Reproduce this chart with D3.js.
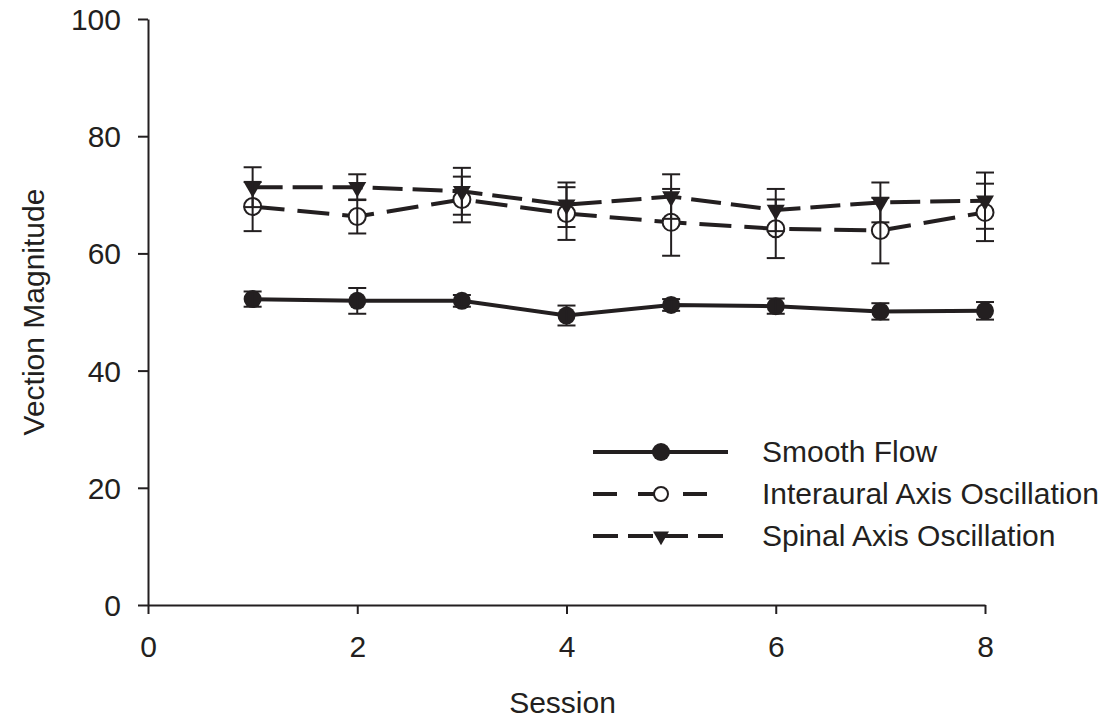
<!DOCTYPE html>
<html>
<head>
<meta charset="utf-8">
<script src="https://cdn.jsdelivr.net/npm/d3@7"></script>
<style>
  body { margin: 0; background: #fff; }
  text { font-family: "Liberation Sans", Arial, sans-serif; fill: #231f20; }
</style>
</head>
<body>
<div class="chart"></div>
<script>
// data
const sessions = [1, 2, 3, 4, 5, 6, 7, 8];
const smoothFlow = [52.2, 51.9, 51.9, 49.4, 51.2, 51.0, 50.1, 50.2];
const smoothFlowErr = [1.3, 2.2, 1.0, 1.7, 1.0, 1.3, 1.4, 1.5];
const interaural = [68.0, 66.3, 69.2, 66.8, 65.3, 64.2, 63.9, 67.0];
const interauralErr = [4.2, 2.9, 3.9, 4.5, 5.7, 5.0, 5.6, 4.9];
const spinal = [71.3, 71.3, 70.6, 68.3, 69.7, 67.4, 68.7, 69.0];
const spinalErr = [3.4, 2.2, 4.0, 3.8, 3.8, 3.6, 3.4, 4.8];
const xTicks = [0, 2, 4, 6, 8];
const yTicks = [0, 20, 40, 60, 80, 100];
const seriesNames = ["Smooth Flow", "Interaural Axis Oscillation", "Spinal Axis Oscillation"];

const ink = "#231f20";
const fontSize = 30;
const margin = ({top: 19, right: 124, bottom: 118, left: 148});
const width = 1109 - margin.left - margin.right,
      height = 723 - margin.top - margin.bottom;

const svg = d3.select(".chart")
              .append("svg")
              .attr("width", 1109)
              .attr("height", 723)
              .append("g")
              .attr("transform", "translate(" + margin.left + "," + margin.top + ")");

const xScale = d3.scaleLinear().domain([0, 8]).range([0, width]);
const yScale = d3.scaleLinear().domain([0, 100]).range([height, 0]);

// axes
const xAxis = d3.axisBottom(xScale).tickValues(xTicks).tickSize(9).tickSizeOuter(0).tickPadding(22);
const yAxis = d3.axisLeft(yScale).tickValues(yTicks).tickSize(10).tickSizeOuter(0).tickPadding(17);

const drawX = svg.append("g").attr("class", "axis x-axis")
                 .attr("transform", `translate(0, ${height})`).call(xAxis);
const drawY = svg.append("g").attr("class", "axis y-axis").call(yAxis);
svg.selectAll(".axis path, .axis line").attr("stroke", ink).attr("stroke-width", 2);
svg.selectAll(".axis text").attr("font-size", fontSize).style("fill", ink)
   .attr("font-family", "'Liberation Sans', Arial, sans-serif");
drawX.selectAll("text").attr("dy", "0.71em");
drawY.selectAll("text").attr("dy", "0.35em");

svg.append("text")
   .attr("x", xScale(4) - 4)
   .attr("y", height + 108)
   .attr("text-anchor", "middle")
   .attr("font-size", fontSize)
   .text("Session");

svg.append("text")
   .attr("transform", `translate(${44 - margin.left}, ${yScale(50)}) rotate(-90)`)
   .attr("text-anchor", "middle")
   .attr("font-size", fontSize)
   .text("Vection Magnitude");

// series definitions
const series = [
  {name: seriesNames[0], values: smoothFlow, err: smoothFlowErr, dash: null, legendDash: null, marker: "filled"},
  {name: seriesNames[1], values: interaural, err: interauralErr, dash: "32,13", legendDash: "24,21", marker: "open"},
  {name: seriesNames[2], values: spinal, err: spinalErr, dash: "30,10", legendDash: "25,10", marker: "triangle"}
];

const line = d3.line()
               .x(d => xScale(d.x))
               .y(d => yScale(d.y));

const triangle = d3.symbol().type(d3.symbolTriangle).size(140);

function drawMarker(g, kind) {
  if (kind === "filled") {
    g.append("circle").attr("r", 9).attr("fill", ink);
  } else if (kind === "open") {
    g.append("circle").attr("r", 8.5).attr("fill", "#fff").attr("stroke", ink).attr("stroke-width", 2);
  } else {
    g.append("path").attr("d", triangle()).attr("transform", "rotate(180)").attr("fill", ink);
  }
}

series.forEach(s => {
  const pts = sessions.map((x, i) => ({x: x, y: s.values[i], e: s.err[i]}));
  s.pts = pts;
  svg.append("path")
     .datum(pts)
     .attr("d", line)
     .attr("fill", "none")
     .attr("stroke", ink)
     .attr("stroke-width", 4)
     .attr("stroke-dasharray", s.dash);
});

series.forEach(s => {
  s.pts.forEach(p => {
    const g = svg.append("g").attr("transform", `translate(${xScale(p.x)},${yScale(p.y)})`);
    drawMarker(g, s.marker);
  });
});

// error bars on top
series.forEach(s => {
  const eg = svg.append("g").attr("stroke", ink).attr("stroke-width", 2);
  s.pts.forEach(p => {
    const cx = xScale(p.x), top = yScale(p.y + p.e), bot = yScale(p.y - p.e);
    eg.append("line").attr("x1", cx).attr("x2", cx).attr("y1", top).attr("y2", bot);
    eg.append("line").attr("x1", cx - 9).attr("x2", cx + 9).attr("y1", top).attr("y2", top);
    eg.append("line").attr("x1", cx - 9).attr("x2", cx + 9).attr("y1", bot).attr("y2", bot);
  });
});

// legend
const legend = svg.append("g").attr("transform", `translate(${593 - margin.left}, ${452 - margin.top})`);
series.forEach((s, i) => {
  const row = legend.append("g").attr("transform", `translate(0, ${i * 42})`);
  row.append("line")
     .attr("x1", 0).attr("x2", i === 1 ? 120 : 135)
     .attr("y1", 0).attr("y2", 0)
     .attr("stroke", ink).attr("stroke-width", 4)
     .attr("stroke-dasharray", s.legendDash);
  const m = row.append("g").attr("transform", "translate(68, 0)");
  if (s.marker === "filled") {
    m.append("circle").attr("r", 9).attr("fill", ink);
  } else if (s.marker === "open") {
    m.append("circle").attr("r", 7).attr("fill", "#fff").attr("stroke", ink).attr("stroke-width", 2);
  } else {
    m.append("path").attr("d", d3.symbol().type(d3.symbolTriangle).size(110)()).attr("transform", "rotate(180)").attr("fill", ink);
  }
  row.append("text")
     .attr("x", 169)
     .attr("y", 10)
     .attr("font-size", fontSize)
     .text(s.name);
});
</script>
</body>
</html>
